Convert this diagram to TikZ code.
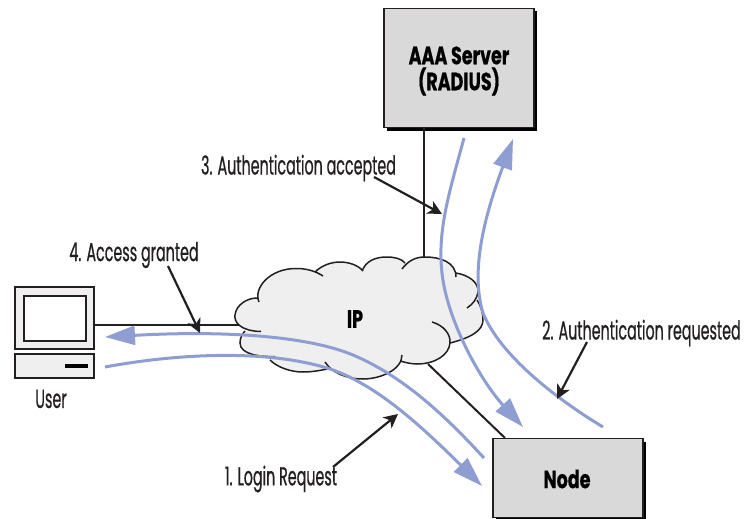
\documentclass[tikz,border=0pt]{standalone}
\usepackage{fontspec}
\setmainfont[FakeStretch=0.55,FakeBold=0.6]{Poppins}
\newfontfamily\heavyfont[FakeStretch=0.7,FakeBold=0.6]{Poppins}
\usetikzlibrary{arrows.meta}
\usetikzlibrary{shadows}
\definecolor{inkblack}{HTML}{231F20}
\definecolor{boxgray}{HTML}{D9D9D9}
\definecolor{paleray}{HTML}{EFEFEF}
\definecolor{flowblue}{HTML}{8E9DD2}
\tikzset{
    wire/.style={draw=inkblack, line width=2pt},
    hostbox/.style={draw=inkblack, fill=boxgray, line width=1.5pt, minimum width=150pt, drop shadow={shadow xshift=3pt, shadow yshift=-3pt, fill=black, opacity=1}},
    hosttext/.style={font=\fontsize{25}{25}\heavyfont\bfseries, align=center, text=black},
    pcpart/.style={draw=inkblack, fill=paleray, line width=2pt, minimum width=79pt},
    flow/.style={draw=flowblue, line width=3pt, line join=round},
    flowtip/.style={flow, -{Triangle[length=30pt, width=19pt]}},
    callout/.style={draw=inkblack, line width=2.2pt, -{Stealth[length=14pt, width=14pt, inset=4pt]}},
    caption/.style={font=\fontsize{26}{28}\selectfont, text=inkblack, inner sep=0pt},
}
\newcommand{\cloudedge}[1]{(261,331.5) .. controls (240,331) and (234,322) .. (235,315) .. controls (236,305) and (247,298) .. (257,298) #1
    (259,302) .. controls (253,288) and (270,268) .. (297,268.5) .. controls (308,268.5) and (317,272) .. (323,276) #1
    (315,272) .. controls (322,265) and (332,262) .. (340,262) .. controls (350,262) and (359,266) .. (363,271) #1
    (362,271) .. controls (366,261) and (375,257) .. (387,257) .. controls (395,257) and (402,259) .. (405,263) #1
    (402,269) .. controls (408,261) and (415,257) .. (425,257) .. controls (440,257) and (456,262) .. (456,277) #1
    (456,273) .. controls (468,275) and (479,282) .. (478,292) .. controls (477,299) and (473,304) .. (467,308) #1
    (477,300) .. controls (481,306) and (483,313) .. (483,320) .. controls (483,331) and (470,338) .. (450,343) #1
    (432,322) .. controls (443,325) and (451,334) .. (450,343) .. controls (449,355) and (435,364) .. (417,364) .. controls (410,364) and (404,362) .. (400,361) #1
    (402,355) .. controls (402,370) and (380,379) .. (363,379) .. controls (347,379) and (332,373) .. (325,362) #1
    (327,369) .. controls (318,371) and (310,372) .. (303,372) .. controls (290,372) and (277,367) .. (270,360) #1
    (275,356.5) .. controls (262,357) and (240,355) .. (240,343) .. controls (240,338) and (242,334) .. (245,331)}

\begin{document}
\begin{tikzpicture}[x=1pt, y=-1pt]
    \useasboundingbox (0,0) rectangle (745,519);

    \node[hostbox, minimum height=119pt] (server) at (459,68) {};
    \node[hosttext] (servertext) at (459,71) {AAA Server\\[1pt](RADIUS)};
    \node[hostbox, minimum height=79pt] (target) at (568,478) {};
    \node[hosttext] (targettext) at (567,479) {Node};
    \node[pcpart, minimum height=62pt] (monitor) at (54.5,318) {};
    \node[draw=inkblack, fill=white, line width=2pt, minimum width=62pt, minimum height=45pt] (screen) at (54.5,318.5) {};
    \node[pcpart, minimum height=24pt] (base) at (54.5,366) {};
    \node[fill=black, minimum width=23pt, minimum height=4pt, inner sep=0pt] (slot) at (76.5,366) {};

    \coordinate (cloudtop) at (424,260);
    \coordinate (cloudleft) at (245,324.5);
    \coordinate (cloudbottom) at (428,364);
    \coordinate (targetcorner) at (505,438);
    \draw[wire] (cloudtop |- server.south) -- (cloudtop);
    \draw[wire] (monitor.east |- cloudleft) -- (cloudleft);
    \draw[wire] (cloudbottom) -- (targetcorner);

    \fill[paleray] \cloudedge{--} -- cycle;
    \draw[inkblack, line width=1.5pt] \cloudedge{};
    \node[hosttext] (ip) at (355,319) {IP};

    \coordinate (loginstart) at (105,367);
    \coordinate (loginend) at (482,486);
    \coordinate (grantstart) at (484,458);
    \coordinate (grantend) at (105,337);
    \coordinate (acceptstart) at (464,138);
    \coordinate (acceptend) at (523,427);
    \coordinate (requeststart) at (603,427);
    \coordinate (requestend) at (513,139);
    \draw[flowtip] (loginstart) .. controls (170,355) and (260,348) .. (327,368) .. controls (375,383) and (420,425) .. (loginend);
    \draw[flowtip] (grantstart) .. controls (440,410) and (400,375) .. (353,355) .. controls (310,337) and (230,330) .. (grantend);
    \draw[flowtip] (acceptstart) .. controls (450,190) and (437,230) .. (442,273) .. controls (447,320) and (480,380) .. (acceptend);
    \draw[flowtip] (requeststart) .. controls (555,398) and (500,355) .. (483,313) .. controls (470,270) and (485,215) .. (requestend);

    \node[caption] (usertext) at (51,399) {User};
    \node[caption] (accesstext) at (134,255) {4. Access granted};
    \node[caption] (accepttext) at (298.5,168) {3. Authentication accepted};
    \node[caption] (requesttext) at (641.5,333) {2. Authentication requested};
    \node[caption] (logintext) at (281,479) {1. Login Request};

    \coordinate (accesshit) at (200,333);
    \coordinate (accepthit) at (442,214);
    \coordinate (requesthit) at (557,399);
    \coordinate (loginhit) at (398,414);
    \draw[callout] (168,266) -- (accesshit);
    \draw[callout] (374,177) -- (accepthit);
    \draw[callout] (587,342) -- (requesthit);
    \draw[callout] (333,467) -- (loginhit);
\end{tikzpicture}
\end{document}
